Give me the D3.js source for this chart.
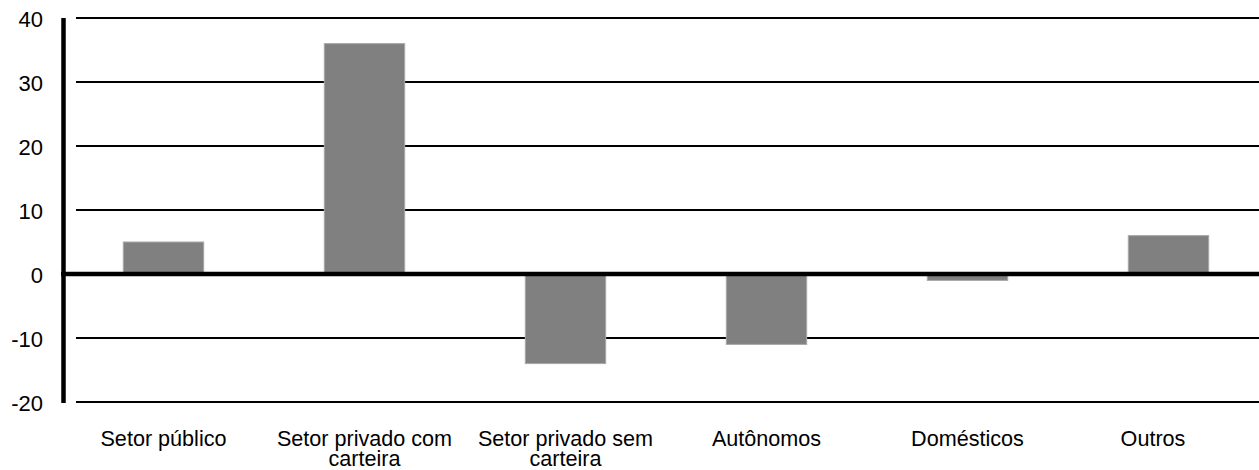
<!DOCTYPE html>
<html>
<head>
<meta charset="utf-8">
<script src="https://cdn.jsdelivr.net/npm/d3@7/dist/d3.min.js"></script>
<style>
  html, body { margin: 0; padding: 0; background: #fff; }
  svg { display: block; font-family: "Liberation Sans", Arial, sans-serif; }
</style>
</head>
<body>
<svg id="chart" width="1259" height="470"></svg>
<script>
// Variação da ocupação por posição (valores)
const categories = [
  ["Setor público"],
  ["Setor privado com", "carteira"],
  ["Setor privado sem", "carteira"],
  ["Autônomos"],
  ["Domésticos"],
  ["Outros"]
];
const values = [5, 36, -14, -11, -1, 6];
const yTicks = [-20, -10, 0, 10, 20, 30, 40];

const svg = d3.select("#chart");
const W = 1259;
const labelRight = 1238; // category labels are centred within the visible part of each band

const x = d3.scaleBand()
  .domain(d3.range(categories.length))
  .range([63, 1269])
  .paddingInner(0.6)
  .paddingOuter(0.3);

const y = d3.scaleLinear().domain([-20, 40]).range([402, 18]);

// horizontal gridlines
svg.append("g")
  .selectAll("line")
  .data(yTicks.filter(t => t !== 0))
  .join("line")
  .attr("x1", 76).attr("x2", W)
  .attr("y1", d => y(d)).attr("y2", d => y(d))
  .attr("stroke", "#000").attr("stroke-width", 2);

// bars
svg.append("g")
  .selectAll("rect")
  .data(values)
  .join("rect")
  .attr("x", (d, i) => x(i))
  .attr("width", x.bandwidth())
  .attr("y", d => y(Math.max(0, d)))
  .attr("height", d => Math.abs(y(d) - y(0)))
  .attr("fill", "#808080")
  .attr("stroke", "#a8a8a8")
  .attr("stroke-width", 1);

// zero baseline
svg.append("line")
  .attr("x1", 61).attr("x2", W)
  .attr("y1", y(0)).attr("y2", y(0))
  .attr("stroke", "#000").attr("stroke-width", 4.5);

// vertical axis line
svg.append("line")
  .attr("x1", 63.5).attr("x2", 63.5)
  .attr("y1", y(40)).attr("y2", y(-20) + 1)
  .attr("stroke", "#000").attr("stroke-width", 4.5);

// y tick labels
svg.append("g")
  .selectAll("text")
  .data(yTicks)
  .join("text")
  .attr("x", 43)
  .attr("y", d => y(d) + 1.7)
  .attr("dy", "0.35em")
  .attr("text-anchor", "end")
  .attr("font-size", 22)
  .attr("fill", "#000")
  .text(d => d);

// category labels
function labelX(i) {
  const half = x.step() / 2;
  const c = x(i) + x.bandwidth() / 2;
  const left = c - half;
  const right = Math.min(c + half, labelRight);
  return (left + right) / 2;
}

const labels = svg.append("g")
  .selectAll("text")
  .data(categories)
  .join("text")
  .attr("text-anchor", "middle")
  .attr("font-size", 21.6)
  .attr("fill", "#000");

labels.selectAll("tspan")
  .data((d, i) => d.map(t => ({ t, i })))
  .join("tspan")
  .attr("x", d => labelX(d.i))
  .attr("y", (d, j) => 445.5 + j * 20)
  .text(d => d.t);
</script>
</body>
</html>
